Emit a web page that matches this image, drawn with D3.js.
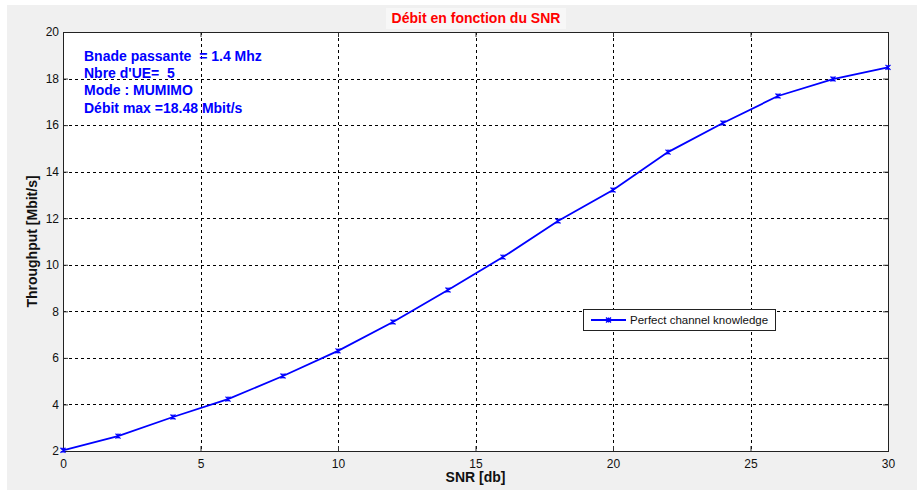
<!DOCTYPE html>
<html><head><meta charset="utf-8">
<script src="https://cdn.jsdelivr.net/npm/d3@7"></script>
<style>body{margin:0;background:#fff;}svg{display:block;font-family:"Liberation Sans",Arial,sans-serif;}text{white-space:pre;}</style>
</head><body><svg id="c" width="917" height="490"></svg>
<script>
const snr = [0,2,4,6,8,10,12,14,16,18,20,22,24,26,28,30];
const throughput = [2.03,2.64,3.46,4.23,5.22,6.30,7.54,8.92,10.33,11.88,13.21,14.84,16.09,17.25,17.98,18.48];
const xTicks = [0,5,10,15,20,25,30];
const yTicks = [2,4,6,8,10,12,14,16,18,20];
const title = "Débit en fonction du SNR";
const xLabel = "SNR [db]";
const yLabel = "Throughput [Mbit/s]";
const seriesName = "Perfect channel knowledge";
const notes = ["Bnade passante  = 1.4 Mhz","Nbre d'UE=  5","Mode : MUMIMO","Débit max =18.48 Mbit/s"];

const svg = d3.select("#c");
svg.append("rect").attr("x",7).attr("y",5).attr("width",910).attr("height",485).attr("fill","#f0f0f0");
const L=63,R=888,T=32,B=451;
const x = d3.scaleLinear().domain([0,30]).range([L,R]);
const y = d3.scaleLinear().domain([2,20]).range([B,T]);
svg.append("rect").attr("x",L).attr("y",T).attr("width",R-L).attr("height",B-T).attr("fill","#fff");

// grid
const g = svg.append("g");
g.selectAll(".vg").data(xTicks.slice(1,-1)).enter().append("line")
 .attr("x1",d=>Math.round(x(d))+0.5).attr("x2",d=>Math.round(x(d))+0.5).attr("y1",T).attr("y2",B)
 .attr("stroke","#000").attr("stroke-width",1).attr("stroke-dasharray","3,3");
g.selectAll(".hg").data(yTicks.slice(1,-1)).enter().append("line")
 .attr("y1",d=>Math.round(y(d))+0.5).attr("y2",d=>Math.round(y(d))+0.5).attr("x1",L).attr("x2",R)
 .attr("stroke","#000").attr("stroke-width",1).attr("stroke-dasharray","3,3");

// axes
svg.append("g").attr("transform",`translate(0,${B})`)
 .call(d3.axisBottom(x).tickValues(xTicks).tickSizeInner(-5).tickSizeOuter(0).tickPadding(8));
svg.append("g").attr("transform",`translate(${L},0)`)
 .call(d3.axisLeft(y).tickValues(yTicks).tickSizeInner(-5).tickSizeOuter(0).tickPadding(4));
svg.append("g").attr("transform",`translate(0,${T})`)
 .call(d3.axisTop(x).tickValues(xTicks).tickSizeInner(-5).tickSizeOuter(0).tickFormat(""));
svg.append("g").attr("transform",`translate(${R},0)`)
 .call(d3.axisRight(y).tickValues(yTicks).tickSizeInner(-5).tickSizeOuter(0).tickFormat(""));
svg.selectAll(".domain").attr("stroke","#333");
svg.selectAll(".tick line").attr("stroke","#333");
svg.selectAll(".tick text").attr("font-size",12).attr("fill","#111").attr("font-family","Liberation Sans, Arial, sans-serif");
svg.append("rect").attr("x",L+0.5).attr("y",T+0.5).attr("width",R-L).attr("height",B-T).attr("fill","none").attr("stroke","#222");

// line
const line = d3.line().x((d,i)=>x(snr[i])).y(d=>y(d));
svg.append("path").datum(throughput).attr("d",line).attr("fill","none").attr("stroke","#0000ff").attr("stroke-width",1.8);
const m = svg.append("g");
throughput.forEach((v,i)=>{
  const cx=x(snr[i]), cy=y(v), s=2.5;
  m.append("path").attr("d",`M${cx-s},${cy-s}L${cx+s},${cy+s}M${cx-s},${cy+s}L${cx+s},${cy-s}M${cx},${cy-s}L${cx},${cy+s}`)
   .attr("stroke","#0000ff").attr("stroke-width",1.3);
});

// title
svg.append("rect").attr("x",386).attr("y",8).attr("width",180).attr("height",21).attr("fill","#f7f7f7");
svg.append("text").attr("x",476).attr("y",23).attr("text-anchor","middle").attr("fill","#ff0000")
 .attr("font-weight","bold").attr("font-size",14).text(title);
svg.append("text").attr("x",(L+R)/2).attr("y",482).attr("text-anchor","middle").attr("font-weight","bold").attr("font-size",14).attr("fill","#111").text(xLabel);
svg.append("text").attr("transform",`translate(37,${(T+B)/2}) rotate(-90)`).attr("text-anchor","middle").attr("font-weight","bold").attr("font-size",14).attr("fill","#111").text(yLabel);

// notes
notes.forEach((t,i)=>{
  svg.append("text").attr("x",84).attr("y",[61,78,95,113][i]).attr("fill","#0000ff").attr("font-weight","bold").attr("font-size",14).text(t);
});

// legend
const lg = svg.append("g");
lg.append("rect").attr("x",583.5).attr("y",309.5).attr("width",192).attr("height",21).attr("fill","#fff").attr("stroke","#222");
lg.append("line").attr("x1",591).attr("x2",626).attr("y1",320).attr("y2",320).attr("stroke","#0000ff").attr("stroke-width",1.8);
lg.append("path").attr("d","M606,317.5L611,322.5M606,322.5L611,317.5M608.5,317.5L608.5,322.5").attr("stroke","#0000ff").attr("stroke-width",1.3);
lg.append("text").attr("x",630).attr("y",324).attr("font-size",11.5).attr("fill","#111").text(seriesName);
</script></body></html>
